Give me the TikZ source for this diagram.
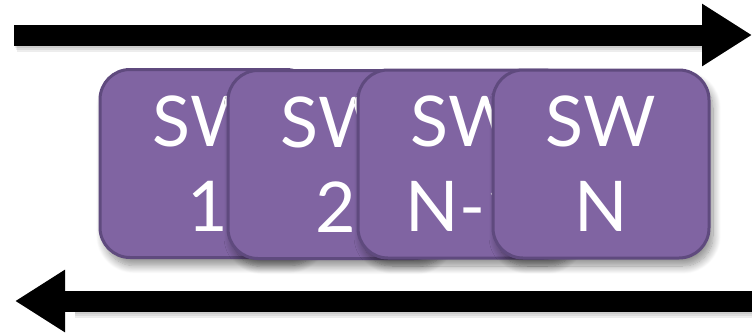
\documentclass[tikz,border=0pt]{standalone}
\usepackage{fontspec}
\setmainfont{Lato}
\usetikzlibrary{arrows.meta,shadows.blur}
\definecolor{swfill}{HTML}{8064A2}
\definecolor{swedge}{HTML}{5F4A7E}
\tikzset{
  swbox/.style={rectangle, rounded corners=30pt, minimum width=216pt, minimum height=188pt,
    fill=swfill, draw=swedge, line width=3pt, text=white, align=center,
    font=\fontsize{70}{85}\selectfont,
    blur shadow={shadow xshift=4pt, shadow yshift=-8pt, shadow blur steps=12, shadow blur radius=8pt, shadow opacity=45}},
  bigarrow/.style={line width=21pt, -{Triangle[width=59pt,length=50pt]}},
  arrowshadow/.style={line width=21pt, draw=black, opacity=0.07}
}
\begin{document}
\begin{tikzpicture}[x=1pt,y=-1pt]
\useasboundingbox (0,0) rectangle (752,333);
\coordinate (ta) at (14,35);
\coordinate (tb) at (752,35);
\coordinate (ba) at (752,301);
\coordinate (bb) at (15,301);
% arrow shadows
\foreach \d in {2,4,6}{
  \draw[arrowshadow] ([shift={(\d*0.5,\d)}]ta) -- ([shift={(-50,\d)}]tb);
  \draw[arrowshadow] ([shift={(0,\d)}]ba) -- ([shift={(60,\d)}]bb);
}
\draw[bigarrow] (ta) -- (tb);
\draw[bigarrow] (ba) -- (bb);
\node[swbox] (s1) at (208,163.5) {SW\\1};
\node[swbox] (s2) at (336,164.5) {SW\\2};
\node[swbox] (s3) at (466,164) {SW\\N-1};
\node[swbox] (s4) at (601,164) {SW\\N};
\end{tikzpicture}
\end{document}
